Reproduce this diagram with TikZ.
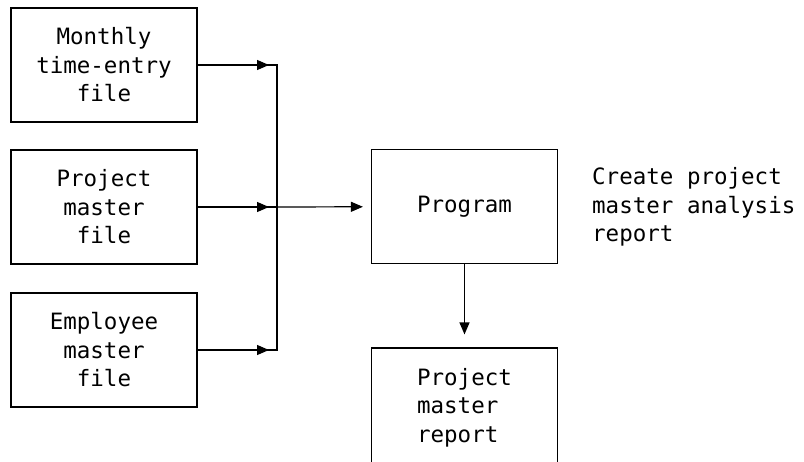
\documentclass[tikz,border=0pt]{standalone}
\usepackage{fontspec}
\setmonofont{DejaVu Sans Mono}
\usetikzlibrary{arrows.meta}
\begin{document}
\begin{tikzpicture}[x=1pt,y=-1pt,
    box/.style={draw, line width=1.2pt, minimum width=186pt, minimum height=114pt, inner sep=0pt, align=center, font=\ttfamily\fontsize{22.5}{28.5}\selectfont},
    arr/.style={-{Triangle[length=12pt,width=10pt]}, line width=1.2pt}]
    \useasboundingbox (0,0) rectangle (804,461);
    % Input files
    \node[box] (monthly) at (104,65) {Monthly\\time-entry\\file};
    \node[box] (project) at (104,207) {Project\\master\\file};
    \node[box] (employee) at (104,350) {Employee\\master\\file};
    % Collecting line
    \coordinate (bustop) at (277,65);
    \coordinate (busmid) at (277,207);
    \coordinate (busbot) at (277,350);
    \draw[line width=1.2pt] (monthly) -- (bustop) -- (busbot) -- (employee);
    \draw[line width=1.2pt] (project) -- (busmid);
    \draw[arr, shorten >=8pt] (monthly) -- (bustop);
    \draw[arr, shorten >=8pt] (project) -- (busmid);
    \draw[arr, shorten >=8pt] (employee) -- (busbot);
    % Program and output
    \node[box] (program) at (464.5,206.5) {Program};
    \node[box, align=left, minimum height=134pt, text depth=20pt] (report) at (464.5,415) {Project\\master\\report};
    \draw[arr, shorten >=8pt] (busmid) -- (program);
    \draw[arr, shorten >=13pt] (program) -- (report);
    \node[anchor=west, align=left, inner sep=0pt, font=\ttfamily\fontsize{22.5}{28.5}\selectfont] (caption) at (592,207) {Create project\\master analysis\\report};
\end{tikzpicture}
\end{document}
